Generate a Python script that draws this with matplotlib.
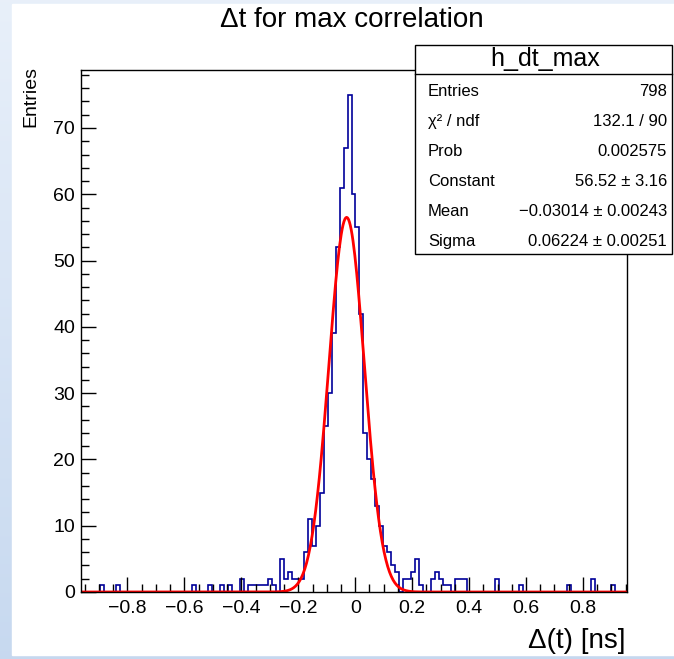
import numpy as np
import matplotlib
matplotlib.use("Agg")
import matplotlib.pyplot as plt
from matplotlib.patches import Rectangle
from matplotlib.lines import Line2D

plt.rcParams['font.family'] = ['Liberation Sans', 'DejaVu Sans']

W, H = 674, 659

# histogram binning
x_min = -0.965
bin_width = 0.014
n_bins = 137

# non-empty bins: bin index -> entries
bin_index = [5, 9, 28, 32, 35, 37, 40, 42, 43, 44, 45, 46, 47, 48,
             50, 51, 52, 53, 54, 55, 56, 57, 58, 59, 60, 61, 62, 63,
             64, 65, 66, 67, 68, 69, 70, 71, 72, 73, 74, 75, 76, 77,
             78, 79, 81, 82, 83, 84, 85, 88, 89, 90, 91, 92, 94, 95,
             96, 104, 110, 122, 128, 133]
bin_count = [1, 1, 1, 1, 1, 1, 2, 1, 1, 1, 1, 1, 2, 1,
             5, 2, 3, 2, 2, 2, 6, 11, 7, 10, 15, 25, 30, 39,
             52, 61, 67, 75, 60, 55, 42, 24, 20, 17, 13, 10, 7, 6,
             4, 3, 2, 2, 3, 5, 1, 2, 3, 2, 1, 1, 2, 2,
             2, 2, 1, 1, 2, 1]

# gaussian fit result
fit_const = 56.52
fit_mean = -0.03014
fit_sigma = 0.06224

x_ticks = [-0.8, -0.6, -0.4, -0.2, 0, 0.2, 0.4, 0.6, 0.8]
x_tick_labels = ["\u22120.8", "\u22120.6", "\u22120.4", "\u22120.2", "0", "0.2", "0.4", "0.6", "0.8"]
y_ticks = [0, 10, 20, 30, 40, 50, 60, 70]

stat_title = "h_dt_max"
stat_names = ["Entries", "\u03c7\u00b2 / ndf", "Prob", "Constant", "Mean", "Sigma"]
stat_values = ["798", "132.1 / 90", "0.002575", "56.52 \u00b1 3.16",
               "\u22120.03014 \u00b1 0.00243", "0.06224 \u00b1 0.00251"]


def fx(px):
    return px / W


def fy(py):
    return 1 - py / H


edges = x_min + bin_width * np.arange(n_bins + 1)
counts = np.zeros(n_bins)
counts[bin_index] = bin_count

fig = plt.figure(figsize=(W / 100, H / 100), dpi=100)

# light blue surround of the ROOT canvas
bg = fig.add_axes([0, 0, 1, 1], zorder=-10)
grad = np.linspace(0, 1, 256)[:, None, None]
top_c = np.array([0.91, 0.94, 0.98])
bot_c = np.array([0.78, 0.85, 0.94])
bg.imshow(top_c + (bot_c - top_c) * grad, aspect="auto", extent=[0, 1, 0, 1], origin="upper")
bg.add_patch(Rectangle((fx(12), fy(655)), fx(674 - 12), (655 - 4) / H, color="white"))
bg.set_xlim(0, 1)
bg.set_ylim(0, 1)
bg.axis("off")

ax = fig.add_axes([fx(80.5), fy(592), fx(626.5 - 80.5), (592 - 70) / H])
ax.stairs(counts, edges, color="#000099", linewidth=1.2)
xf = np.linspace(edges[0], edges[-1], 600)
ax.plot(xf, fit_const * np.exp(-0.5 * ((xf - fit_mean) / fit_sigma) ** 2), color="red", linewidth=2)

ax.set_xlim(edges[0], edges[-1])
ax.set_ylim(0, 75 * 1.05)
ax.set_xticks(x_ticks)
ax.set_xticklabels(x_tick_labels)
ax.set_xticks(np.arange(-0.95, 0.951, 0.05), minor=True)
ax.set_yticks(y_ticks)
ax.set_yticks(np.arange(0, 79, 2), minor=True)
ax.tick_params(which="both", direction="in", top=False, right=False, width=1, labelsize=14)
ax.tick_params(which="major", length=11)
ax.tick_params(which="minor", length=5.5)
ax.tick_params(axis="x", pad=6)
ax.tick_params(axis="y", pad=4)
for s in ax.spines.values():
    s.set_linewidth(1)

fig.text(fx(352), fy(20), "\u0394t for max correlation", ha="center", va="center", fontsize=20)
fig.text(fx(31), fy(66), "Entries", rotation=90, ha="center", va="top", fontsize=14)
fig.text(fx(626), fy(641), "\u0394(t) [ns]", ha="right", va="center", fontsize=20)

# stat box
box_l, box_r, box_t, box_b = 415, 672, 45, 254
fig.patches.append(Rectangle((fx(box_l), fy(box_b)), fx(box_r - box_l), (box_b - box_t) / H,
                             transform=fig.transFigure, facecolor="white", edgecolor="black",
                             linewidth=1, zorder=5))
fig.lines.append(Line2D([fx(box_l), fx(box_r)], [fy(74), fy(74)], transform=fig.transFigure,
                        color="black", linewidth=1, zorder=6))
fig.text(fx(545), fy(59), stat_title, ha="center", va="center", fontsize=18, zorder=7)
for i, (name, val) in enumerate(zip(stat_names, stat_values)):
    yy = fy(91.5 + 30 * i)
    fig.text(fx(428), yy, name, ha="left", va="center", fontsize=12, zorder=7)
    fig.text(fx(667), yy, val, ha="right", va="center", fontsize=12, zorder=7)

fig.savefig("out.png", dpi=100)
